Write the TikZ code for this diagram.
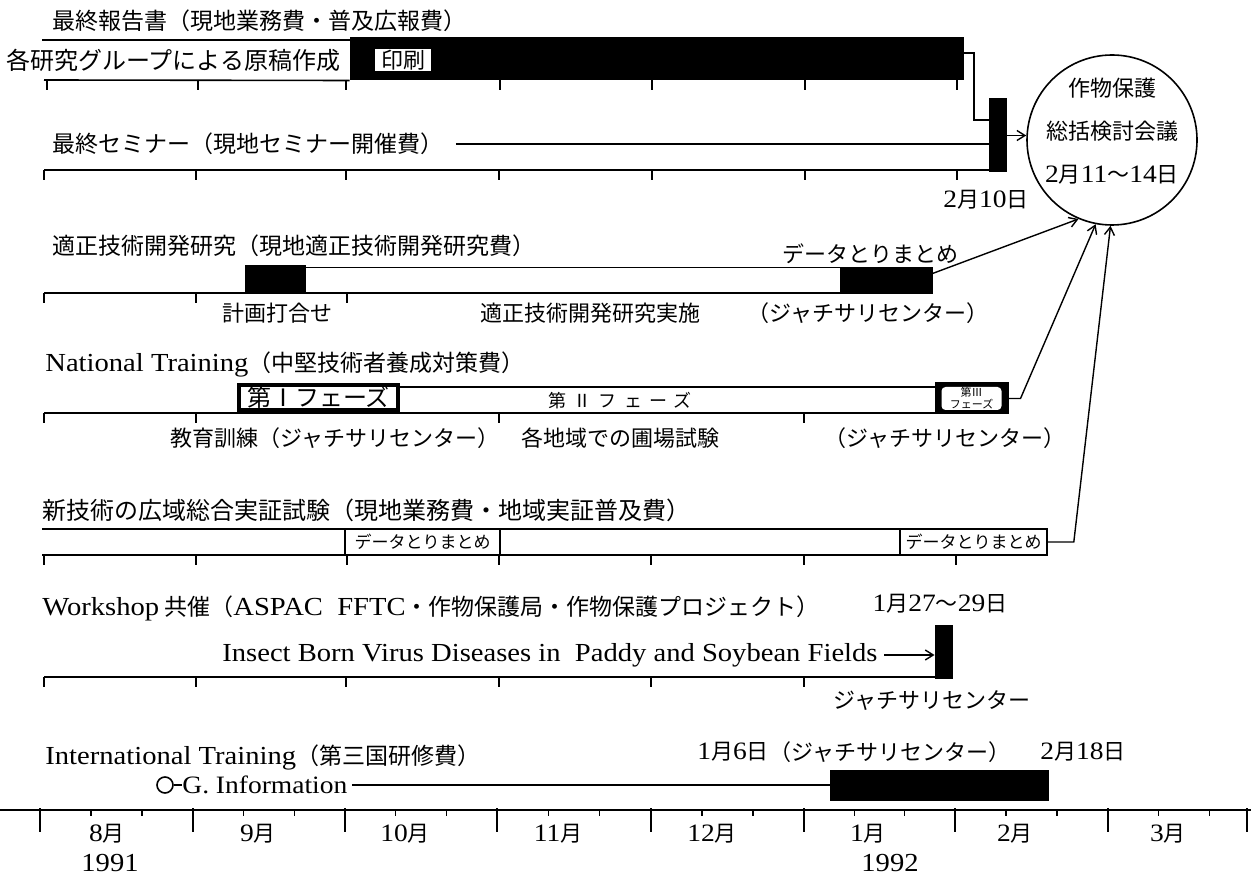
\documentclass[tikz,border=0pt]{standalone}
\usepackage{fontspec}
\setmainfont{Noto Sans CJK JP}
\newfontfamily\en[FakeStretch=1.1]{Liberation Serif}
\newcommand\EN[1]{{\fontsize{13}{15}\en #1}}
\newcommand\dg[1]{{\fontsize{12.5}{14}\en #1}}
\usetikzlibrary{arrows.meta,fit}
\begin{document}
\begin{tikzpicture}[x=0.5pt,y=-0.5pt,
  txt/.style={inner sep=0pt, font=\fontsize{11}{13}\selectfont},
  ttl/.style={inner sep=0pt, anchor=west, font=\fontsize{11.5}{14}\selectfont},
  ln/.style={line width=0.8pt},
  tk/.style={line width=1.1pt},
  blk/.style={fill=black, draw=black, line width=0.5pt, inner sep=0pt},
  segbox/.style={draw=black, line width=0.8pt, inner sep=0pt},
  arr/.style={line width=0.7pt, -{Straight Barb[length=4pt,width=5pt]}},
  small/.style={inner sep=0pt, font=\fontsize{8.5}{10}\selectfont},
]
\useasboundingbox (0,0) rectangle (1251,881);

% ---------- Row 1 ----------
\node[ttl] (t1) at (52,21) {最終報告書（現地業務費・普及広報費）};
\draw[ln] (42,40) -- (350,40);
\node[blk, fit={(350,38) (963,80)}] (bar1) {};
\node[inner sep=0pt, anchor=west, font=\fontsize{12}{14}\selectfont] (draft) at (6,60) {各研究グループによる原稿作成};
\node[segbox, fill=white, minimum width=29pt, minimum height=12pt, inner sep=1pt, font=\fontsize{11}{12}\selectfont] (print) at (403,60) {印刷};
\draw[ln] (44,80) -- (bar1.south west);
\foreach \x in {47,198,346,500,652,805,957} \draw[tk] (\x,80) -- (\x,90);

% ---------- Row 2 ----------
\node[ttl] (t2) at (52,144) {最終セミナー（現地セミナー開催費）};
\node[blk, fit={(989,99) (1006,172)}] (sbar) {};
\draw[ln] ([xshift=6pt]t2.east) -- (t2.east -| sbar.west);
\draw[ln] (44,170) -- (989,170);
\foreach \x in {44,196,346,499,652,805,957} \draw[tk] (\x,170) -- (\x,180);
\coordinate (c1) at (974,120);
\draw[ln] ([yshift=3pt]bar1.east) -| (c1) -- (c1 -| sbar.west);
\node[txt] (d210) at (986,200) {\dg{2}月\dg{10}日};

% ---------- Meeting circle ----------
\node[draw, circle, ln, minimum size=85pt, inner sep=0pt] (circ) at (1112,140) {};
\node[txt, align=center, font=\fontsize{11}{21.5}\selectfont] (circtxt) at (1112,131) {作物保護\\総括検討会議\\\dg{2}月\dg{11}〜\dg{14}日};
\draw[arr] (sbar.east) -- (sbar.east -| circ.west);

% ---------- Row 3 ----------
\node[ttl] (t3) at (52,246) {適正技術開発研究（現地適正技術開発研究費）};
\node[blk, fit={(245,266) (305,293)}] (plan) {};
\node[blk, fit={(840,268) (932,294)}] (sum3) {};
\draw[ln] ([yshift=-1pt]plan.north east) -- ([yshift=-1pt]plan.north east -| sum3.west);
\draw[ln] (44,293) -- (840,293);
\foreach \x in {44,196,347} \draw[tk] (\x,293) -- (\x,303);
\node[txt] (sumlbl) at (870,254) {データとりまとめ};
\node[txt] (planlbl) at (277,313) {計画打合せ};
\node[txt] (implbl) at (590,313) {適正技術開発研究実施};
\node[txt] (jc3) at (868,313) {（ジャチサリセンター）};
\draw[arr] ([yshift=-3pt]sum3.north east) -- (circ.247);

% ---------- Row 4 ----------
\node[ttl] (t4) at (45,364) {\EN{National Training}（中堅技術者養成対策費）};
\node[blk, fit={(935,383) (1008,414)}] (ph3) {};
\node[fill=white, rounded corners=2pt, inner sep=0pt, minimum width=30pt, minimum height=11.5pt, align=center, font=\fontsize{5.5}{6}\selectfont] (ph3in) at (ph3) {第Ⅲ\\フェーズ};
\draw[ln] (400,387) -- (935,387);
\draw[ln] (44,413) -- (935,413);
\node[draw, line width=2.2pt, fill=white, fit={(239,385) (398,410)}, inner sep=0pt] (ph1) {};
\node[txt, font=\fontsize{12}{14}\selectfont] (ph1lbl) at (ph1) {第Ⅰフェーズ};
\node[small, font=\fontsize{9}{10}\selectfont\addfontfeature{LetterSpace=40}] (ph2) at (620,401) {第Ⅱフェーズ};
\foreach \x in {44,196,499,804} \draw[tk] (\x,413) -- (\x,423);
\node[txt] (edu) at (335,438) {教育訓練（ジャチサリセンター）};
\node[txt] (field) at (620,438) {各地域での圃場試験};
\node[txt] (jc4) at (945,438) {（ジャチサリセンター）};
\draw[arr] (ph3.east) -- ++(12,0) -- (circ.259);

% ---------- Row 5 ----------
\node[ttl, font=\fontsize{12}{14}\selectfont] (t5) at (42,510) {新技術の広域総合実証試験（現地業務費・地域実証普及費）};
\draw[ln] (42,529) -- (1047,529);
\draw[ln] (42,555) -- (1047,555);
\node[segbox, fit={(345,529) (500,555)}] (data1) {};
\node[segbox, fit={(900,529) (1047,555)}] (data2) {};
\node[small] at (data1) {データとりまとめ};
\node[small] at (data2) {データとりまとめ};
\foreach \x in {44,196,347,499,651,804,956} \draw[tk] (\x,555) -- (\x,565);
\draw[arr] (data2.east) -- ++(26,0) -- (circ.269);

% ---------- Row 6 ----------
\node[ttl] (t6) at (42,608) {\EN{Workshop} 共催（\EN{ASPAC\ \ FFTC}・作物保護局・作物保護プロジェクト）};
\node[txt] (wdate) at (940,604) {\dg{1}月\dg{27}〜\dg{29}日};
\node[blk, fit={(935,625) (952,678)}] (wbar) {};
\node[inner sep=0pt, anchor=east, font=\fontsize{13}{15}\en] (ins) at (878,655) {Insect Born Virus Diseases in\ \ Paddy and Soybean Fields};
\draw[arr] ([xshift=3pt]ins.east) -- (ins.east -| wbar.west);
\draw[ln] (44,677) -- (935,677);
\foreach \x in {44,196,346,499,651,804} \draw[tk] (\x,677) -- (\x,687);
\node[txt] (jc6) at (932,701) {ジャチサリセンター};

% ---------- Row 7 ----------
\node[ttl] (t7) at (45,757) {\EN{International Training}（第三国研修費）};
\node[txt] (d16) at (733,752) {\dg{1}月\dg{6}日};
\node[txt] (jc7) at (890,752) {（ジャチサリセンター）};
\node[txt] (d218) at (1083,752) {\dg{2}月\dg{18}日};
\node[blk, fit={(830,770) (1048,800)}] (ibar) {};
\node[draw, ln, circle, minimum size=8pt, inner sep=0pt] (gc) at (165,785) {};
\node[inner sep=0pt, anchor=west, font=\fontsize{12.5}{14}\en] (gi) at (182,785) {G. Information};
\draw[ln] (gc.east) -- (gi.west);
\draw[ln] ([xshift=2pt]gi.east) -- (gi.east -| ibar.west);

% ---------- Main time axis ----------
\draw[line width=1.2pt] (0,810) -- (1251,810);
\foreach \x in {40,193,345,497,651,804,955,1108,1247} \draw[line width=1.3pt] (\x,808) -- (\x,832);
\foreach \a/\b in {40/193,193/345,345/497,497/651,651/804,804/955,955/1108,1108/1260} {
  \pgfmathsetmacro\ma{\a+(\b-\a)/3}
  \pgfmathsetmacro\mb{\a+2*(\b-\a)/3}
  \draw[ln] (\ma,810) -- (\ma,816);
  \draw[ln] (\mb,810) -- (\mb,816);
}
\node[txt] (m8) at (107,834) {\dg{8}月};
\node[txt] (m9) at (258,834) {\dg{9}月};
\node[txt] (m10) at (405,834) {\dg{10}月};
\node[txt] (m11) at (558,834) {\dg{11}月};
\node[txt] (m12) at (712,834) {\dg{12}月};
\node[txt] (m1) at (868,834) {\dg{1}月};
\node[txt] (m2) at (1015,834) {\dg{2}月};
\node[txt] (m3) at (1168,834) {\dg{3}月};
\node[inner sep=0pt, font=\fontsize{13}{15}\en] (y91) at (110,863) {1991};
\node[inner sep=0pt, font=\fontsize{13}{15}\en] (y92) at (890,863) {1992};
\end{tikzpicture}
\end{document}
